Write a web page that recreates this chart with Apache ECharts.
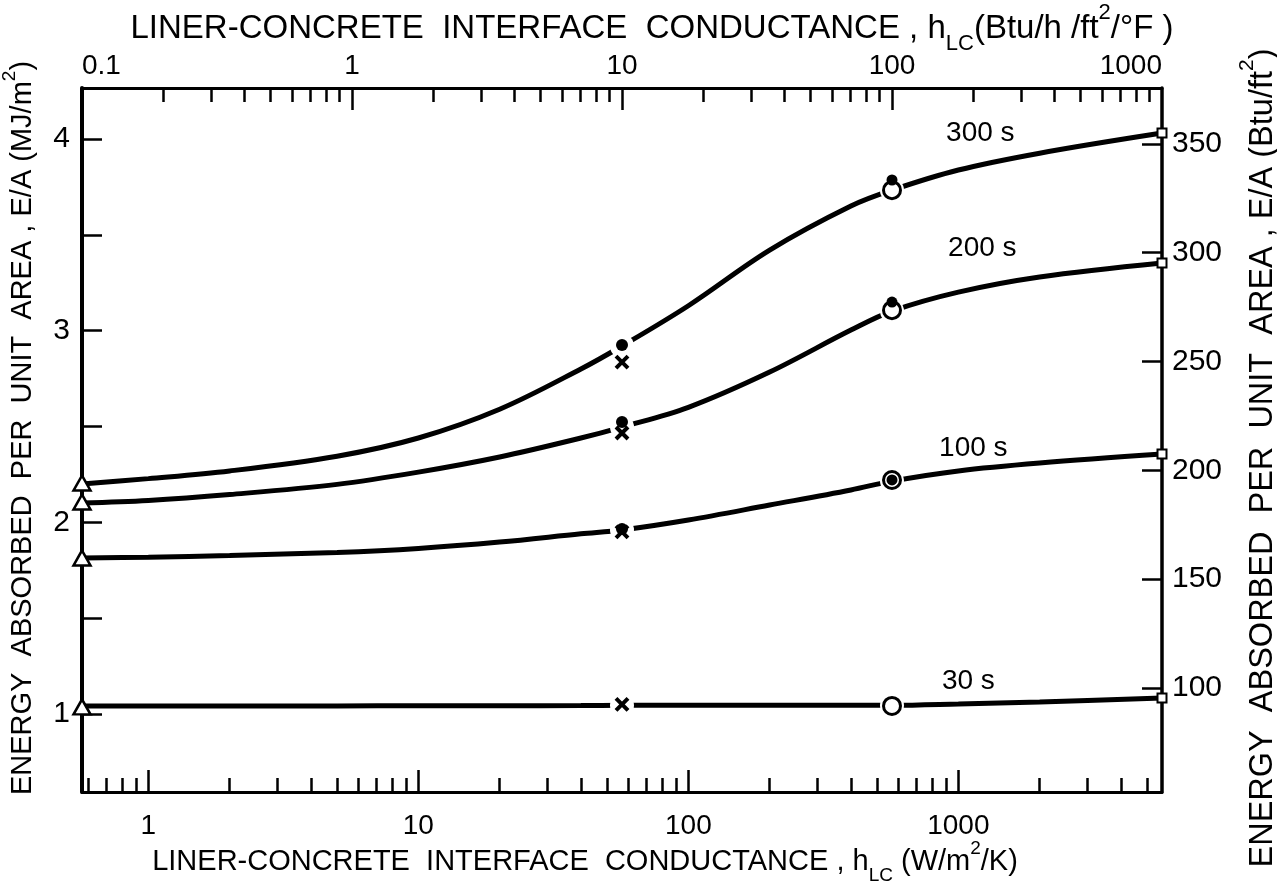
<!DOCTYPE html>
<html><head><meta charset="utf-8">
<script src="https://cdn.jsdelivr.net/npm/echarts@6/dist/echarts.min.js"></script>
<style>html,body{margin:0;padding:0;background:#fff}#c{width:1277px;height:888px}</style>
</head><body><div id="c"></div>
<script>
// ---- data ----
// conductance sample points (W/m^2/K) at which the curves were read
const hW = [0.5678, 1, 2, 5, 10, 20, 40, 56.78, 100, 200, 400, 567.8, 1000, 2000, 5678];
// energy absorbed per unit area (MJ/m^2)
const e300 = [2.200, 2.228, 2.268, 2.345, 2.440, 2.590, 2.800, 2.920, 3.130, 3.420, 3.650, 3.733, 3.838, 3.926, 4.031];
const e200 = [2.101, 2.114, 2.145, 2.198, 2.262, 2.341, 2.440, 2.497, 2.600, 2.784, 3.003, 3.102, 3.201, 3.280, 3.353];
const e100 = [1.814, 1.818, 1.827, 1.843, 1.864, 1.897, 1.940, 1.960, 2.012, 2.090, 2.169, 2.215, 2.268, 2.309, 2.356];
const e30  = [1.042, 1.042, 1.042, 1.042, 1.043, 1.043, 1.044, 1.045, 1.045, 1.045, 1.045, 1.045, 1.052, 1.063, 1.083];
const seriesNames = ['300 s', '200 s', '100 s', '30 s'];

// measured markers
const triX = 0.5678;  const triY = [2.205, 2.106, 1.814, 1.037];
const midX = 56.78;   const dotMidY = [2.925, 2.523, 1.965]; const crossY = [2.836, 2.466, 1.950, 1.050];
const circX = 567.8;  const circY = [3.733, 3.107, 2.221, 1.042]; const dotCircY = [3.786, 3.149, 2.221];
const sqX = 5678;     const sqY = [4.031, 3.353, 2.356, 1.083];

// axis ticks
const bottomMajor = [1, 10, 100, 1000];
const bottomMinor = [0.6, 0.7, 0.8, 0.9, 2, 3, 4, 5, 6, 7, 8, 9, 20, 30, 40, 50, 60, 70, 80, 90,
  200, 300, 400, 500, 600, 700, 800, 900, 2000, 3000, 4000, 5000];
const topLabels = [0.1, 1, 10, 100, 1000];
const topMajor = [1, 10, 100];
const topMinor = [0.2, 0.3, 0.4, 0.5, 0.6, 0.7, 0.8, 0.9, 2, 3, 4, 5, 6, 7, 8, 9, 20, 30, 40, 50, 60, 70, 80, 90,
  200, 300, 400, 500, 600, 700, 800, 900];
const leftTicks = [1, 1.5, 2, 2.5, 3, 3.5, 4];
const leftLabels = [1, 2, 3, 4];
const rightTicks = [100, 150, 200, 250, 300, 350];

// ranges
const xMin = 0.5678, xMax = 5678;        // W/m^2/K
const topMin = 0.1, topMax = 1000;       // Btu/h/ft^2/F
const yMin = 0.593, yMax = 4.266;        // MJ/m^2
const MJ_TO_BTU = 88.05;                 // Btu/ft^2 per MJ/m^2

// ---- chart ----
const FONT = 'Liberation Sans';
const BLACK = '#000';
const chart = echarts.init(document.getElementById('c'));

function rich(size) {
  const s = Math.round(size * 0.66);
  return {
    t: {fontSize: size, fontFamily: FONT, color: BLACK, lineHeight: Math.round(size * 1.6)},
    sub: {fontSize: s, fontFamily: FONT, color: BLACK, verticalAlign: 'bottom', lineHeight: s},
    sup: {fontSize: s, fontFamily: FONT, color: BLACK, verticalAlign: 'top', lineHeight: Math.round(s * 1.2)}
  };
}

function logAxis(pos, min, max, opts) {
  return Object.assign({
    type: 'log', position: pos, min: min, max: max, logBase: 10,
    splitLine: {show: false}, minorTick: {show: false}, minorSplitLine: {show: false},
    axisLine: {show: true, lineStyle: {color: BLACK, width: 3}},
  }, opts);
}

const xAxes = [
  logAxis('bottom', xMin, xMax, {
    axisTick: {show: true, inside: true, length: 22, customValues: bottomMajor, lineStyle: {color: BLACK, width: 2.5}},
    axisLabel: {show: true, customValues: bottomMajor, fontSize: 28, fontFamily: FONT, color: BLACK, margin: 20,
      formatter: v => String(v)},
    name: '{t|LINER-CONCRETE  INTERFACE  CONDUCTANCE , h}{sub|LC}{t| (W/m}{sup|2}{t|/K)}',
    nameLocation: 'middle', nameGap: 47, nameMoveOverlap: false,
    nameTextStyle: {rich: rich(29), padding: [0, 74, 0, 0]}
  }),
  logAxis('top', topMin, topMax, {
    axisTick: {show: true, inside: true, length: 22, customValues: topMajor, lineStyle: {color: BLACK, width: 2.5}},
    axisLabel: {show: true, customValues: topLabels, fontSize: 28, fontFamily: FONT, color: BLACK, margin: 8,
      alignMinLabel: 'left', alignMaxLabel: 'right',
      formatter: v => String(v)},
    name: '{t|LINER-CONCRETE  INTERFACE  CONDUCTANCE , h}{sub|LC}{t|(Btu/h /ft}{sup|2}{t|/°F )}',
    nameLocation: 'middle', nameGap: 33, nameMoveOverlap: false,
    nameTextStyle: {rich: rich(33), padding: [0, 0, 0, 60]}
  }),
  logAxis('bottom', xMin, xMax, {
    axisLine: {show: false},
    axisTick: {show: true, inside: true, length: 14, customValues: bottomMinor, lineStyle: {color: BLACK, width: 2.5}},
    axisLabel: {show: false}
  }),
  logAxis('top', topMin, topMax, {
    axisLine: {show: false},
    axisTick: {show: true, inside: true, length: 14, customValues: topMinor, lineStyle: {color: BLACK, width: 2.5}},
    axisLabel: {show: false}
  })
];

const yAxes = [
  {
    type: 'value', position: 'left', min: yMin, max: yMax,
    splitLine: {show: false},
    axisLine: {show: true, lineStyle: {color: BLACK, width: 4}},
    axisTick: {show: true, inside: true, length: 20, customValues: leftTicks, lineStyle: {color: BLACK, width: 2.5}},
    axisLabel: {show: true, customValues: leftLabels, fontSize: 30, fontFamily: FONT, color: BLACK, margin: 12},
    name: '{t|ENERGY  ABSORBED  PER  UNIT  AREA , E/A (MJ/m}{sup|2}{t|)}',
    nameLocation: 'middle', nameGap: 36, nameMoveOverlap: false,
    nameTextStyle: {rich: rich(29), padding: [0, 0, 0, 24]}
  },
  {
    type: 'value', position: 'right', min: yMin * MJ_TO_BTU, max: yMax * MJ_TO_BTU,
    splitLine: {show: false},
    axisLine: {show: true, lineStyle: {color: BLACK, width: 3.5}},
    axisTick: {show: true, inside: true, length: 20, customValues: rightTicks, lineStyle: {color: BLACK, width: 2.5}},
    axisLabel: {show: true, customValues: rightTicks, fontSize: 30, fontFamily: FONT, color: BLACK, margin: 10},
    name: '{t|ENERGY  ABSORBED  PER  UNIT  AREA , E/A (Btu/ft}{sup|2}{t|)}',
    nameLocation: 'middle', nameGap: 75, nameMoveOverlap: false,
    nameTextStyle: {rich: rich(32.5), padding: [0, 36, 0, 0]}
  }
];

const labelStyle = [
  {distance: 22, offset: [22, 0]},
  {distance: 29, offset: [24, 0]},
  {distance: 8, offset: [15, 0]},
  {distance: 8, offset: [10, 0]}
];
const gapX = [midX, circX];

function curve(idx, ys) {
  const name = seriesNames[idx];
  return {
    type: 'line', name: name, xAxisIndex: 0, yAxisIndex: 0, smooth: 0.35,
    showSymbol: true, showAllSymbol: true, z: 2, animation: false,
    lineStyle: {color: BLACK, width: 5},
    data: hW.map((x, i) => {
      const item = {value: [x, ys[i]]};
      if (gapX.indexOf(x) >= 0) {
        item.symbol = 'circle'; item.symbolSize = 24; item.itemStyle = {color: '#fff', borderWidth: 0, opacity: 1};
      } else if (x === 1000) {
        item.symbol = 'circle'; item.symbolSize = 1; item.itemStyle = {color: BLACK};
        item.label = Object.assign({show: true, position: 'top', formatter: name,
          fontSize: 28, fontFamily: FONT, color: BLACK}, labelStyle[idx]);
      } else {
        item.symbol = 'none';
      }
      return item;
    })
  };
}

function markers(xVal, ys, symbol, size, style) {
  return {
    type: 'scatter', xAxisIndex: 0, yAxisIndex: 0, z: 5, animation: false, clip: false,
    symbol: symbol, symbolSize: size, itemStyle: Object.assign({opacity: 1}, style),
    data: ys.map(y => [xVal, y])
  };
}

const openStyle = {color: '#fff', borderColor: BLACK, borderWidth: 2.5};
const series = [
  curve(0, e300), curve(1, e200), curve(2, e100), curve(3, e30),
  markers(triX, triY, 'triangle', [17, 15], openStyle),
  markers(midX, crossY, 'path://M0,0L10,10M10,0L0,10', [12, 12], {color: 'none', borderColor: BLACK, borderWidth: 4}),
  markers(midX, dotMidY, 'circle', 12, {color: BLACK}),
  markers(circX, circY, 'circle', 17, {color: '#fff', borderColor: BLACK, borderWidth: 3}),
  markers(circX, dotCircY, 'circle', 11, {color: BLACK}),
  markers(sqX, sqY, 'rect', 9, {color: '#fff', borderColor: BLACK, borderWidth: 2})
];

chart.setOption({
  backgroundColor: '#fff',
  animation: false,
  grid: {left: 82, right: 115, top: 88, bottom: 96, containLabel: false, outerBoundsMode: 'none'},
  xAxis: xAxes,
  yAxis: yAxes,
  series: series
});
</script>
</body></html>
